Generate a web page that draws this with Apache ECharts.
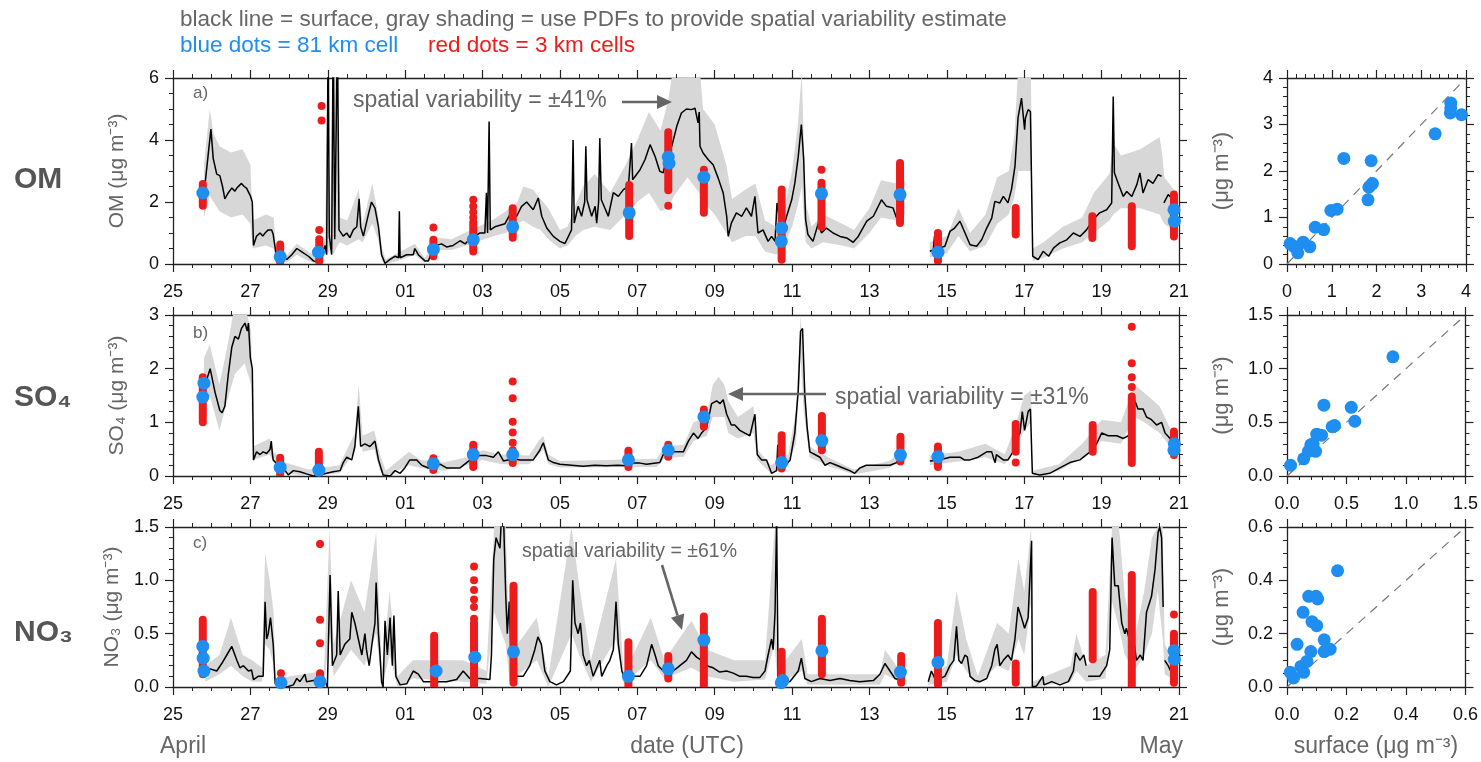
<!DOCTYPE html>
<html>
<head>
<meta charset="utf-8">
<script src="https://cdn.jsdelivr.net/npm/echarts/dist/echarts.min.js"></script>
<style>
  html, body { margin: 0; padding: 0; background: #fff; }
  #chart { width: 1481px; height: 762px; }
</style>
</head>
<body>
<div id="chart"></div>
<script>
// ---------------------------------------------------------------------------
// Time axis: days since 25 April 00 UTC (0 .. 26 = 21 May)
// ---------------------------------------------------------------------------
const dayTickLabels = ['25', '27', '29', '01', '03', '05', '07', '09', '11', '13', '15', '17', '19', '21'];

// ---------------------------- OM (ug m-3) ----------------------------------
// surface observation [day, value]; null marks a gap in the record
const omSurface = [
  [0.83,2.6],[0.98,4.35],[1.04,3.4],[1.13,2.9],[1.21,2.85],[1.28,2.5],[1.34,2.1],[1.43,2.3],[1.52,2.45],[1.6,2.35],
  [1.65,2.45],[1.77,2.6],[1.84,2.5],[1.9,2.45],[2.0,2.2],[2.05,2.0],[2.08,0.6],[2.16,0.9],[2.25,1.0],[2.32,0.9],
  [2.38,1.0],[2.46,1.1],[2.55,1.1],[2.59,0.95],[2.66,0.35],[2.76,0.3],[2.85,0.2],[2.94,0.15],[3.07,0.3],[3.2,0.5],
  [3.32,0.4],[3.5,0.25],[3.63,0.1],[3.76,0.05],[3.84,0.3],[3.93,0.6],[3.97,0.3],[4.01,7.5],[4.04,0.9],[4.1,0.3],
  [4.14,7.5],[4.18,0.8],[4.22,0.8],[4.25,7.5],[4.29,1.1],[4.4,0.9],[4.49,1.0],[4.57,0.85],[4.66,1.1],[4.75,1.2],
  [4.81,2.1],[4.85,1.2],[4.92,0.9],[5.05,1.6],[5.13,2.0],[5.22,1.8],[5.31,1.2],[5.39,0.3],[5.48,0.02],[5.61,0.15],
  [5.74,0.25],[5.83,0.2],[5.85,1.7],[5.87,0.2],[6.04,0.3],[6.21,0.3],[6.25,0.5],[6.34,0.3],[6.51,0.1],[6.6,0.1],
  [6.68,0.35],[6.81,0.6],[6.94,0.65],[7.07,0.55],[7.24,0.6],[7.42,0.75],[7.55,0.65],[7.67,0.8],[7.8,0.9],[7.93,1.0],
  [8.06,1.0],[8.1,2.3],[8.13,1.0],[8.17,4.6],[8.2,1.1],[8.32,1.2],[8.45,1.25],[8.58,1.3],[8.62,1.27],[8.71,1.6],
  [8.88,1.54],[9.01,1.86],[9.14,2.0],[9.31,1.75],[9.44,2.13],[9.53,1.54],[9.66,1.16],[9.83,0.89],[10.0,0.73],[10.13,0.66],
  [10.22,0.89],[10.3,1.1],[10.34,4.0],[10.37,1.32],[10.47,1.86],[10.56,1.54],[10.64,2.0],[10.67,3.8],[10.7,2.07],[10.82,1.54],
  [10.91,1.86],[10.95,1.32],[11.0,2.0],[11.03,4.06],[11.07,2.07],[11.25,1.54],[11.38,2.3],[11.51,2.18],[11.64,2.4],[11.77,2.5],
  [11.85,3.9],[11.88,2.72],[12.07,3.04],[12.2,3.37],[12.33,3.85],[12.46,3.47],[12.58,2.99],[12.67,2.94],[12.76,3.47],[12.89,3.8],
  [13.02,4.44],[13.14,4.87],[13.27,5.0],[13.4,4.98],[13.49,5.03],[13.57,4.55],[13.6,4.9],[13.62,3.8],[13.7,3.58],[13.83,3.37],
  [13.96,3.2],[14.09,2.77],[14.22,2.29],[14.31,1.54],[14.35,0.89],[14.43,1.32],[14.56,1.65],[14.7,1.54],[14.82,1.81],[14.95,1.54],
  [15.04,2.18],[15.12,1.0],[15.25,1.1],[15.38,0.73],[15.47,0.89],[15.56,0.73],[15.61,1.97],[15.73,1.0],[15.86,1.54],[15.99,2.07],
  [16.07,2.6],[16.16,3.47],[16.24,4.5],[16.3,3.37],[16.35,1.43],[16.41,0.95],[16.54,0.73],[16.68,1.32],[16.76,1.0],[16.89,1.16],
  [17.06,1.0],[17.24,0.89],[17.41,0.84],[17.58,0.7],[17.71,0.89],[17.93,1.38],[18.1,1.54],[18.31,2.07],[18.44,1.86],[18.61,1.81],
  [18.7,1.48],[18.79,1.97],[18.91,2.34],[18.93,null],[19.56,0.41],[19.65,0.45],[19.68,0.89],[19.71,0.46],[19.82,0.52],[19.95,0.57],
  [20.08,1.05],[20.2,1.16],[20.34,1.38],[20.47,1.0],[20.6,0.62],[20.77,0.57],[20.9,0.78],[21.03,1.16],[21.16,1.48],[21.24,2.02],
  [21.37,1.97],[21.46,2.18],[21.58,1.97],[21.67,2.4],[21.76,3.15],[21.84,4.71],[21.93,5.35],[22.01,4.33],[22.03,4.7],[22.1,4.98],
  [22.16,4.92],[22.22,0.25],[22.36,0.14],[22.49,0.41],[22.63,0.25],[22.76,0.52],[22.92,0.68],[23.1,0.78],[23.27,1.0],[23.44,0.89],
  [23.61,1.1],[23.78,1.43],[23.95,1.65],[24.13,1.75],[24.26,1.97],[24.3,5.4],[24.33,2.94],[24.43,2.6],[24.56,2.18],[24.65,2.34],
  [24.78,2.18],[24.91,2.56],[24.99,2.94],[25.07,2.29],[25.2,2.72],[25.33,2.6],[25.46,2.88],[25.55,2.83],[25.58,null],[25.61,1.97],
  [25.72,2.24],[25.85,2.07],[25.93,1.65]
];
// spatial-variability envelope [day, low, high]
const omBand = [
  [0.8,1.5,3.2],[0.95,2.2,5.0],[1.05,2.0,4.2],[1.2,1.7,3.8],[1.5,1.5,3.6],[1.8,1.6,3.7],[2.0,1.3,3.2],[2.06,0.5,1.4],
  [2.4,0.6,1.6],[2.6,0.5,1.5],[2.66,0.15,0.55],[2.95,0.05,0.3],[3.2,0.3,0.65],[3.5,0.1,0.4],[3.75,0.0,0.2],[3.93,0.35,0.8],
  [4.0,0.3,6.5],[4.06,0.5,1.2],[4.14,0.3,6.5],[4.25,0.6,6.5],[4.31,0.7,1.5],[4.5,0.6,1.4],[4.8,0.8,2.4],[4.9,0.7,1.3],
  [5.15,1.3,2.6],[5.3,0.8,1.6],[5.4,0.1,0.5],[5.5,0.0,0.15],[5.8,0.1,0.35],[6.25,0.3,0.65],[6.5,0.05,0.2],[6.7,0.2,0.5],
  [6.85,0.45,0.85],[7.2,0.45,0.8],[7.45,0.55,0.95],[7.8,0.7,1.15],[8.05,0.8,1.3],[8.3,0.9,1.45],[8.6,1.0,1.7],[8.9,1.3,2.0],
  [9.05,1.4,2.5],[9.3,1.2,2.4],[9.5,1.1,2.1],[9.7,0.8,1.8],[10.0,0.5,1.1],[10.2,0.6,1.2],[10.4,0.9,1.9],[10.6,1.1,2.5],
  [10.9,1.2,2.9],[11.3,1.1,2.3],[11.7,1.6,3.2],[12.0,2.0,4.0],[12.3,2.3,4.9],[12.6,1.7,4.3],[12.8,1.8,5.3],[12.95,2.2,6.5],
  [13.3,2.8,6.5],[13.6,2.3,6.5],[13.7,2.0,5.0],[14.0,1.6,4.5],[14.3,1.0,3.2],[14.45,0.7,2.1],[14.8,0.9,2.4],[15.05,0.9,2.6],
  [15.3,0.4,1.4],[15.6,0.3,1.2],[15.8,0.6,1.8],[16.0,1.2,3.0],[16.15,1.9,4.5],[16.25,2.5,6.2],[16.35,0.7,2.0],[16.5,0.5,1.2],
  [16.8,0.7,1.6],[17.3,0.6,1.3],[17.6,0.5,1.1],[18.0,1.0,1.8],[18.3,1.5,2.7],[18.7,1.4,2.6],[18.92,1.6,2.7],[18.93,null,null],
  [19.56,0.2,0.7],[20.0,0.35,0.9],[20.3,0.9,1.8],[20.6,0.4,1.0],[21.0,0.6,1.6],[21.3,1.3,2.8],[21.6,1.6,3.0],[21.75,2.2,4.2],
  [21.85,3.0,6.5],[22.17,3.0,6.5],[22.22,0.1,0.5],[22.5,0.2,0.7],[23.0,0.5,1.2],[23.5,0.7,1.5],[23.8,1.0,2.3],[24.2,1.4,2.9],
  [24.3,1.6,3.9],[24.5,1.8,3.5],[25.0,1.8,3.7],[25.5,1.6,4.1],[25.57,1.4,3.5],[25.62,1.3,2.8],[25.93,1.0,2.3]
];
// 3 km cells: continuous runs of dots [day, lowest, highest] and isolated dots [day, value]
const omRedRuns = [
  [0.77,1.88,2.58],[2.77,0.05,0.63],[3.78,0.08,0.8],[6.73,0.25,0.78],[7.76,0.4,1.35],[8.78,0.85,1.8],[11.79,0.9,2.55],
  [12.8,2.38,4.25],[13.72,1.65,2.88],[15.73,0.14,2.4],[16.76,1.2,2.62],[18.79,1.32,3.26],[19.77,0.09,1.0],[21.78,0.95,1.81],
  [23.76,0.84,1.54],[24.78,0.57,1.86],[25.87,0.89,2.24]
];
const omRedDots = [
  [3.78,1.1],[3.84,4.63],[3.84,5.1],[6.73,1.18],[7.76,1.5],[7.76,1.67],[7.76,1.86],[7.76,2.07],[12.8,1.88],[13.72,3.04],[16.76,3.04]
];
// 81 km cell [day, value]
const omBlue = [
  [0.77,2.29],[2.77,0.23],[3.76,0.38],[6.73,0.47],[7.76,0.78],[8.78,1.2],[11.79,1.65],[12.8,3.45],[12.82,3.25],[13.72,2.8],
  [15.73,1.16],[15.72,0.73],[16.76,2.27],[18.79,2.24],[19.77,0.38],[25.87,1.75],[25.88,1.38]
];
// scatter: surface vs 81 km cell
const omScatterSurface = [0.07,0.15,0.24,0.36,0.51,0.63,0.82,0.98,1.12,1.27,1.81,1.83,1.91,1.88,3.31,3.66,3.65,3.9,3.66];
const omScatterModel   = [0.44,0.38,0.24,0.47,0.37,0.79,0.74,1.15,1.18,2.27,1.38,1.65,1.73,2.22,2.8,3.46,3.25,3.21,3.36];

// ---------------------------- SO4 (ug m-3) ---------------------------------
const so4Surface = [
  [0.83,1.7],[0.96,2.0],[1.09,1.55],[1.21,1.22],[1.27,1.18],[1.34,1.3],[1.43,1.9],[1.52,2.4],[1.6,2.6],[1.69,2.55],
  [1.77,2.75],[1.86,2.85],[1.92,2.7],[1.95,2.85],[2.0,2.2],[2.05,2.0],[2.08,0.3],[2.16,0.45],[2.25,0.4],[2.33,0.45],
  [2.42,0.42],[2.51,0.5],[2.54,0.65],[2.57,0.4],[2.59,0.3],[2.72,0.2],[2.85,0.15],[2.98,0.02],[3.11,0.1],[3.28,0.08],
  [3.45,0.04],[3.63,0.0],[3.8,0.02],[3.97,0.05],[4.14,0.08],[4.32,0.1],[4.4,0.25],[4.49,0.35],[4.62,0.3],[4.7,0.55],
  [4.79,1.3],[4.85,0.55],[4.96,0.6],[5.09,0.55],[5.22,0.65],[5.31,0.3],[5.43,0.02],[5.61,0.0],[5.74,0.1],[5.87,0.05],
  [5.99,0.15],[6.12,0.3],[6.3,0.3],[6.43,0.2],[6.6,0.15],[6.77,0.2],[6.9,0.22],[7.07,0.15],[7.24,0.15],[7.42,0.15],
  [7.59,0.25],[7.76,0.35],[7.93,0.38],[8.1,0.38],[8.28,0.35],[8.41,0.45],[8.54,0.28],[8.8,0.32],[8.97,0.3],[9.14,0.3],
  [9.31,0.3],[9.48,0.48],[9.57,0.62],[9.7,0.3],[9.83,0.25],[10.0,0.22],[10.3,0.2],[10.6,0.18],[10.9,0.2],[11.2,0.19],
  [11.5,0.2],[11.72,0.19],[11.9,0.24],[12.07,0.24],[12.24,0.22],[12.58,0.25],[12.67,0.4],[12.8,0.45],[13.01,0.45],[13.19,0.45],
  [13.32,0.65],[13.45,0.8],[13.57,0.7],[13.66,0.8],[13.79,0.9],[13.92,1.35],[14.05,1.4],[14.14,1.35],[14.22,1.42],[14.31,1.15],
  [14.43,0.95],[14.52,0.95],[14.65,0.85],[14.78,0.8],[14.91,0.75],[15.04,1.15],[15.1,0.4],[15.21,0.3],[15.34,0.3],[15.47,0.05],
  [15.6,0.1],[15.63,0.58],[15.66,0.3],[15.77,0.15],[15.95,0.3],[16.07,0.8],[16.16,1.6],[16.22,2.7],[16.27,2.75],[16.33,1.5],
  [16.39,0.9],[16.46,0.45],[16.59,0.4],[16.72,0.35],[16.85,0.2],[16.98,0.25],[17.15,0.2],[17.32,0.15],[17.49,0.1],[17.62,0.05],
  [17.75,0.15],[17.92,0.2],[18.18,0.2],[18.53,0.2],[18.7,0.25],[18.83,0.35],[18.88,null],[19.56,0.28],[19.82,0.3],[20.08,0.35],
  [20.34,0.35],[20.45,0.3],[20.6,0.3],[20.81,0.35],[21.03,0.45],[21.16,0.45],[21.22,0.3],[21.25,0.25],[21.28,0.4],[21.46,0.3],
  [21.58,0.3],[21.71,0.45],[21.8,0.7],[21.89,0.8],[21.95,1.2],[22.01,0.85],[22.1,1.2],[22.16,1.25],[22.21,0.05],[22.4,0.02],
  [22.66,0.05],[22.92,0.15],[23.18,0.25],[23.44,0.3],[23.7,0.45],[23.87,0.6],[24.0,0.8],[24.17,0.75],[24.39,0.75],[24.56,0.7],
  [24.69,0.75],[24.78,0.9],[24.86,1.4],[24.94,1.25],[25.07,1.25],[25.16,1.1],[25.29,1.05],[25.42,0.95],[25.55,1.0],[25.64,0.8],
  [25.77,0.7],[25.9,0.5]
];
const so4Band = [
  [0.8,1.4,2.2],[0.95,1.5,2.45],[1.2,0.85,1.7],[1.4,1.4,2.4],[1.6,1.9,3.2],[1.85,2.1,3.2],[2.02,1.7,2.7],[2.07,0.3,0.55],
  [2.5,0.4,0.7],[2.6,0.25,0.45],[2.9,0.05,0.25],[3.5,0.0,0.12],[4.3,0.05,0.2],[4.5,0.25,0.5],[4.7,0.45,0.8],[4.8,1.0,1.7],
  [4.9,0.45,0.75],[5.2,0.5,0.85],[5.35,0.1,0.4],[5.5,0.0,0.1],[6.1,0.2,0.45],[6.4,0.15,0.3],[7.0,0.1,0.25],[7.6,0.2,0.35],
  [8.0,0.3,0.48],[8.5,0.22,0.4],[9.2,0.22,0.38],[9.45,0.4,0.65],[9.57,0.5,0.75],[9.7,0.22,0.4],[10.0,0.16,0.28],[12.5,0.17,0.32],
  [12.7,0.33,0.55],[13.2,0.36,0.58],[13.45,0.65,1.0],[13.8,0.75,1.1],[13.95,1.1,1.7],[14.1,1.1,1.85],[14.25,1.1,1.7],[14.35,0.8,1.4],
  [14.6,0.7,1.1],[15.0,0.8,1.3],[15.1,0.3,0.5],[15.45,0.05,0.2],[15.9,0.2,0.4],[16.1,0.6,1.2],[16.22,2.2,3.0],[16.3,1.2,2.0],
  [16.45,0.35,0.55],[17.0,0.17,0.32],[17.6,0.03,0.12],[18.5,0.15,0.28],[18.85,0.28,0.45],[18.9,null,null],[19.56,0.2,0.38],[20.3,0.27,0.45],
  [21.0,0.35,0.6],[21.5,0.22,0.4],[21.8,0.55,1.0],[22.0,0.85,1.5],[22.18,1.0,1.6],[22.21,0.0,0.1],[22.9,0.1,0.22],[23.5,0.35,0.6],
  [24.0,0.65,1.05],[24.5,0.6,1.0],[24.85,1.1,1.7],[25.1,1.0,1.55],[25.5,0.8,1.3],[25.93,0.4,0.65]
];
const so4RedRuns = [
  [0.77,1.0,1.84],[2.77,0.01,0.34],[3.77,0.02,0.45],[6.73,0.11,0.33],[7.76,0.17,0.58],[8.78,0.24,0.42],[11.77,0.17,0.47],
  [12.8,0.36,0.58],[13.72,0.92,1.24],[15.73,0.14,0.76],[16.77,0.48,1.12],[18.8,0.27,0.73],[19.77,0.17,0.55],[21.78,0.45,0.97],
  [23.77,0.45,0.95],[24.78,0.24,1.48],[25.87,0.39,0.83]
];
const so4RedDots = [
  [8.78,0.48],[8.78,0.62],[8.78,0.81],[8.78,1.01],[8.78,1.45],[8.78,1.76],[21.78,0.25],[24.78,1.66],[24.78,1.84],[24.78,2.1],[24.78,2.78]
];
const so4Blue = [
  [0.77,1.47],[0.8,1.73],[2.77,0.16],[3.77,0.11],[6.73,0.23],[7.76,0.4],[8.78,0.4],[11.77,0.3],[12.8,0.48],[13.72,1.1],
  [15.73,0.25],[16.77,0.66],[18.8,0.39],[19.77,0.36],[25.87,0.48],[25.88,0.6]
];
const so4ScatterSurface = [0.03,0.14,0.18,0.2,0.22,0.24,0.25,0.29,0.31,0.38,0.4,0.54,0.57,0.89];
const so4ScatterModel   = [0.1,0.16,0.23,0.29,0.3,0.23,0.39,0.38,0.66,0.46,0.47,0.64,0.51,1.11];

// ---------------------------- NO3 (ug m-3) ---------------------------------
const no3Surface = [
  [0.83,0.12],[0.96,0.17],[1.13,0.15],[1.26,0.22],[1.39,0.3],[1.52,0.38],[1.56,0.34],[1.65,0.25],[1.73,0.18],[1.82,0.2],
  [1.95,0.15],[2.03,0.16],[2.08,0.07],[2.2,0.1],[2.33,0.1],[2.38,0.8],[2.42,0.45],[2.46,0.5],[2.52,0.65],[2.59,0.4],
  [2.64,0.03],[2.76,0.02],[2.94,0.0],[3.11,0.02],[3.2,0.08],[3.28,0.05],[3.41,0.12],[3.45,0.05],[3.63,0.06],[3.8,0.1],
  [3.93,0.05],[3.99,0.0],[4.06,1.05],[4.12,0.2],[4.23,0.3],[4.27,0.9],[4.32,0.3],[4.44,0.4],[4.57,0.45],[4.62,0.7],
  [4.7,0.6],[4.79,0.45],[4.88,0.3],[4.96,0.5],[5.0,0.35],[5.07,0.2],[5.16,0.45],[5.22,0.6],[5.25,0.98],[5.31,0.5],
  [5.35,0.3],[5.39,0.05],[5.43,0.0],[5.48,0.62],[5.54,0.3],[5.61,0.65],[5.67,0.2],[5.71,0.67],[5.76,0.1],[5.87,0.02],
  [6.04,0.03],[6.21,0.15],[6.34,0.12],[6.47,0.05],[6.73,0.05],[7.07,0.05],[7.33,0.07],[7.5,0.15],[7.67,0.08],[7.93,0.08],
  [8.19,0.07],[8.23,0.3],[8.29,1.2],[8.35,1.4],[8.45,1.3],[8.49,1.6],[8.55,1.5],[8.6,0.85],[8.64,0.5],[8.69,0.8],
  [8.75,0.1],[8.88,0.1],[9.05,0.1],[9.22,0.2],[9.35,0.35],[9.43,0.47],[9.52,0.4],[9.61,0.15],[9.74,0.05],[9.91,0.02],
  [10.09,0.05],[10.27,0.15],[10.33,1.0],[10.39,0.6],[10.47,0.5],[10.53,0.6],[10.6,0.3],[10.69,0.2],[10.76,0.25],[10.86,0.1],
  [11.03,0.25],[11.08,0.1],[11.21,0.2],[11.29,0.25],[11.38,0.35],[11.45,0.8],[11.51,0.4],[11.6,0.15],[11.68,0.07],[11.77,0.07],
  [11.9,0.1],[12.07,0.1],[12.24,0.2],[12.37,0.4],[12.46,0.3],[12.54,0.2],[12.67,0.15],[12.8,0.12],[12.93,0.15],[13.1,0.2],
  [13.27,0.25],[13.4,0.33],[13.53,0.28],[13.66,0.25],[13.79,0.2],[13.96,0.18],[14.13,0.14],[14.31,0.15],[14.48,0.13],[14.65,0.1],
  [14.82,0.1],[14.99,0.09],[15.17,0.09],[15.3,0.15],[15.38,0.3],[15.47,0.45],[15.51,0.35],[15.56,0.7],[15.6,1.6],[15.64,0.05],
  [15.77,0.06],[15.94,0.05],[16.16,0.15],[16.24,0.27],[16.33,0.08],[16.5,0.05],[16.72,0.08],[16.98,0.06],[17.24,0.08],[17.49,0.06],
  [17.75,0.05],[18.1,0.06],[18.27,0.12],[18.4,0.22],[18.53,0.15],[18.66,0.08],[18.83,0.06],[18.88,null],[19.52,0.05],[19.6,0.15],
  [19.69,0.08],[19.82,0.08],[19.95,0.1],[20.08,0.2],[20.18,0.25],[20.25,0.57],[20.31,0.25],[20.38,0.22],[20.47,0.3],[20.53,0.28],
  [20.6,0.1],[20.73,0.06],[20.86,0.05],[21.03,0.08],[21.16,0.2],[21.24,0.35],[21.3,0.4],[21.37,0.2],[21.46,0.25],[21.58,0.3],
  [21.67,0.25],[21.76,0.45],[21.84,0.75],[21.93,0.65],[22.01,0.55],[22.1,0.65],[22.19,1.37],[22.21,0.0],[22.32,0.01],[22.48,0.1],
  [22.51,0.02],[22.71,0.05],[22.92,0.02],[23.14,0.05],[23.27,0.15],[23.33,0.32],[23.44,0.25],[23.54,0.3],[23.6,0.2],[23.62,null],
  [23.65,0.1],[23.78,0.1],[23.95,0.1],[24.13,0.2],[24.21,0.35],[24.27,1.4],[24.34,0.95],[24.43,0.95],[24.52,0.6],[24.6,0.5],
  [24.64,0.55],[24.75,0.4],[24.81,0.5],[24.9,0.25],[25.0,0.3],[25.07,0.25],[25.16,0.7],[25.29,0.85],[25.38,1.1],[25.46,1.45],
  [25.5,1.5],[25.55,1.4],[25.59,0.75],[25.61,null],[25.63,0.25],[25.72,0.2],[25.85,0.1],[25.93,0.12]
];
const no3Band = [
  [0.83,0.05,0.2],[1.2,0.12,0.3],[1.5,0.2,0.65],[1.8,0.1,0.3],[2.05,0.05,0.25],[2.3,0.05,0.18],[2.38,0.4,1.25],[2.5,0.35,1.0],
  [2.6,0.2,0.7],[2.65,0.0,0.08],[3.9,0.0,0.15],[4.05,0.5,1.5],[4.15,0.1,0.4],[4.6,0.35,1.0],[4.95,0.2,0.7],[5.25,0.5,1.45],
  [5.4,0.0,0.15],[5.6,0.3,0.9],[5.8,0.0,0.1],[6.2,0.08,0.25],[7.5,0.05,0.25],[8.1,0.03,0.15],[8.3,0.7,1.5],[8.6,0.4,1.5],
  [8.7,0.05,0.3],[9.4,0.25,0.65],[9.7,0.0,0.1],[10.3,0.5,1.5],[10.5,0.3,0.95],[10.8,0.05,0.25],[11.45,0.45,1.2],[11.65,0.03,0.12],
  [12.35,0.25,0.65],[12.7,0.08,0.25],[13.4,0.18,0.62],[13.8,0.1,0.35],[14.5,0.05,0.25],[15.3,0.07,0.25],[15.55,0.4,1.5],[15.62,0.02,0.15],
  [16.25,0.15,0.45],[16.4,0.02,0.12],[18.27,0.02,0.12],[18.4,0.12,0.35],[18.85,0.03,0.12],[18.9,null,null],[19.52,0.02,0.1],[20.0,0.05,0.2],
  [20.25,0.3,0.9],[20.5,0.15,0.45],[20.8,0.02,0.1],[21.3,0.2,0.6],[21.6,0.15,0.5],[21.85,0.45,1.2],[22.0,0.3,0.9],[22.18,0.8,1.5],
  [22.21,0.0,0.05],[23.2,0.05,0.2],[23.35,0.15,0.5],[23.6,0.05,0.2],[24.1,0.08,0.3],[24.27,0.8,1.5],[24.45,0.55,1.5],[24.6,0.3,0.85],
  [24.85,0.15,0.45],[25.1,0.3,0.9],[25.3,0.5,1.4],[25.45,0.9,1.5],[25.58,0.45,1.5],[25.63,0.12,0.4],[25.93,0.05,0.2]
];
const no3RedRuns = [
  [0.77,0.12,0.63],[2.79,0.0,0.07],[3.8,0.0,0.13],[6.75,0.0,0.48],[7.78,0.0,0.6],[8.8,0.04,0.95],[11.77,0.0,0.42],
  [12.8,0.08,0.29],[13.72,0.0,0.66],[15.73,0.0,0.33],[16.77,0.12,0.64],[18.82,0.04,0.29],[19.77,0.02,0.6],[21.78,0.04,0.22],
  [23.77,0.26,0.89],[24.78,0.01,1.05],[25.87,0.04,0.5]
];
const no3RedDots = [
  [2.79,0.13],[3.8,0.41],[3.8,0.63],[3.8,1.34],[7.78,0.64],[7.78,0.75],[7.78,0.82],[7.78,0.91],[7.78,1.0],[7.78,1.13],[25.87,0.68]
];
const no3Blue = [
  [0.77,0.38],[0.78,0.27],[0.8,0.15],[2.79,0.04],[3.8,0.05],[6.8,0.15],[7.8,0.28],[8.8,0.33],[11.77,0.1],[12.8,0.17],
  [13.72,0.44],[15.72,0.04],[15.76,0.06],[16.77,0.34],[18.8,0.14],[19.77,0.23],[25.87,0.34],[25.88,0.26]
];
const no3ScatterSurface = [0.011,0.022,0.034,0.047,0.056,0.054,0.067,0.073,0.08,0.084,0.098,0.1,0.103,0.125,0.125,0.145,0.17];
const no3ScatterModel   = [0.055,0.034,0.16,0.077,0.055,0.28,0.096,0.34,0.133,0.245,0.34,0.23,0.33,0.177,0.133,0.142,0.436];

// ---------------------------------------------------------------------------
// Styling
// ---------------------------------------------------------------------------
const FONT = '"Liberation Sans", Arial, Helvetica, sans-serif';
const TXT_GRAY = '#666666';
const RED = '#ec1c1c';
const BLUE = '#1e8ef0';
const SHADE = '#d7d7d7';
const RED_DOT = 8;
const BLUE_DOT = 13;

const tsBox = { left: 173, width: 1006 };
const scBox = { left: 1287, width: 179 };
const rowBox = [ { top: 78, height: 186 }, { top: 315, height: 161 }, { top: 527, height: 160 } ];

const panels = [
  { name: 'OM (μg m⁻³)', surface: omSurface, band: omBand, runs: omRedRuns, dots: omRedDots, blue: omBlue,
    y: { min: 0, max: 6, interval: 2, minor: 4, dec: 0 },
    sc: { sx: omScatterSurface, sy: omScatterModel, min: 0, max: 4, interval: 1, minor: 5, dec: 0 } },
  { name: 'SO₄ (μg m⁻³)', surface: so4Surface, band: so4Band, runs: so4RedRuns, dots: so4RedDots, blue: so4Blue,
    y: { min: 0, max: 3, interval: 1, minor: 5, dec: 0 },
    sc: { sx: so4ScatterSurface, sy: so4ScatterModel, min: 0, max: 1.5, interval: 0.5, minor: 5, dec: 1 } },
  { name: 'NO₃ (μg m⁻³)', surface: no3Surface, band: no3Band, runs: no3RedRuns, dots: no3RedDots, blue: no3Blue,
    y: { min: 0, max: 1.5, interval: 0.5, minor: 5, dec: 1 },
    sc: { sx: no3ScatterSurface, sy: no3ScatterModel, min: 0, max: 0.6, interval: 0.2, minor: 4, dec: 1 } }
];

function axis(gridIndex, cfg, position, showLabel, labelMargin, extra) {
  return Object.assign({
    type: 'value', gridIndex: gridIndex, position: position,
    min: cfg.min, max: cfg.max, interval: cfg.interval,
    axisLine: { show: true, onZero: false, lineStyle: { color: '#222', width: 1.3 } },
    axisTick: { show: true, inside: false, length: 8, lineStyle: { color: '#222', width: 1.2 } },
    minorTick: { show: true, splitNumber: cfg.minor, length: 4, lineStyle: { color: '#222', width: 1 } },
    splitLine: { show: false }, minorSplitLine: { show: false },
    axisLabel: { show: showLabel, color: '#111', fontSize: 18, fontFamily: FONT, margin: labelMargin,
                 formatter: cfg.fmt || (v => v.toFixed(cfg.dec)) }
  }, extra || {});
}

const grid = [], xAxis = [], yAxis = [], series = [];
const timeCfg = { min: 0, max: 26, interval: 2, minor: 4, fmt: v => dayTickLabels[Math.round(v / 2)] };

panels.forEach((p, i) => {
  // time-series grid
  const g = grid.length;
  grid.push({ left: tsBox.left, width: tsBox.width, top: rowBox[i].top, height: rowBox[i].height });
  const xb = xAxis.length;
  xAxis.push(axis(g, timeCfg, 'bottom', true, 19));
  xAxis.push(axis(g, timeCfg, 'top', false, 8));
  const yb = yAxis.length;
  yAxis.push(axis(g, p.y, 'left', true, 14, {
    name: p.name, nameLocation: 'middle', nameGap: 45, nameRotate: 90,
    nameTextStyle: { color: TXT_GRAY, fontSize: 21, fontFamily: FONT }
  }));
  yAxis.push(axis(g, p.y, 'right', false, 8));

  const band = p.band;
  series.push({
    type: 'custom', xAxisIndex: xb, yAxisIndex: yb, z: 1, silent: true, clip: true,
    data: band.filter(r => r[1] !== null),
    encode: { x: 0, y: [1, 2] },
    renderItem: function (params, api) {
      if (params.dataIndex !== 0) return null;
      const segs = []; let cur = [];
      band.forEach(r => { if (r[1] === null) { if (cur.length) segs.push(cur); cur = []; } else cur.push(r); });
      if (cur.length) segs.push(cur);
      return {
        type: 'group',
        children: segs.map(seg => {
          const pts = seg.map(r => api.coord([r[0], r[2]]));
          for (let k = seg.length - 1; k >= 0; k--) pts.push(api.coord([seg[k][0], seg[k][1]]));
          return { type: 'polygon', shape: { points: pts }, style: { fill: SHADE } };
        })
      };
    }
  });
  series.push({
    type: 'line', xAxisIndex: xb, yAxisIndex: yb, z: 2, silent: true, clip: true,
    symbol: 'none', showSymbol: false, connectNulls: false,
    data: p.surface.map(d => d[1] === null ? [d[0], '-'] : d),
    lineStyle: { color: '#000', width: 1.5 }
  });
  series.push({
    type: 'custom', xAxisIndex: xb, yAxisIndex: yb, z: 3, silent: true, clip: true,
    data: p.runs, encode: { x: 0, y: [1, 2] },
    renderItem: function (params, api) {
      const top = api.coord([api.value(0), api.value(2)]);
      const bot = api.coord([api.value(0), api.value(1)]);
      const r = RED_DOT / 2;
      return { type: 'rect', shape: { x: top[0] - r, y: top[1] - r, width: RED_DOT, height: bot[1] - top[1] + RED_DOT, r: r },
               style: { fill: RED } };
    }
  });
  series.push({
    type: 'scatter', xAxisIndex: xb, yAxisIndex: yb, z: 3, silent: true, clip: true,
    symbolSize: RED_DOT, data: p.dots, itemStyle: { color: RED, opacity: 1 }
  });
  series.push({
    type: 'scatter', xAxisIndex: xb, yAxisIndex: yb, z: 4, silent: true, clip: true,
    symbolSize: BLUE_DOT, data: p.blue, itemStyle: { color: BLUE, opacity: 1 }
  });

  // scatter grid: surface vs 81 km cell
  const sg = grid.length;
  grid.push({ left: scBox.left, width: scBox.width, top: rowBox[i].top, height: rowBox[i].height });
  const sxb = xAxis.length;
  xAxis.push(axis(sg, p.sc, 'bottom', true, 19));
  xAxis.push(axis(sg, p.sc, 'top', false, 8));
  const syb = yAxis.length;
  yAxis.push(axis(sg, p.sc, 'left', true, 14, {
    name: '(μg m⁻³)', nameLocation: 'middle', nameGap: 54, nameRotate: 90,
    nameTextStyle: { color: TXT_GRAY, fontSize: 22, fontFamily: FONT }
  }));
  yAxis.push(axis(sg, p.sc, 'right', false, 8));
  series.push({
    type: 'line', xAxisIndex: sxb, yAxisIndex: syb, z: 2, silent: true, symbol: 'none',
    data: [[p.sc.min, p.sc.min], [p.sc.max, p.sc.max]],
    lineStyle: { color: '#777', width: 1.2, type: [9, 7] }
  });
  series.push({
    type: 'scatter', xAxisIndex: sxb, yAxisIndex: syb, z: 3, silent: true, clip: false,
    symbolSize: 13, data: p.sc.sx.map((v, k) => [v, p.sc.sy[k]]), itemStyle: { color: BLUE, opacity: 1 }
  });
});

function label(x, y, text, opts) {
  return {
    type: 'text', x: x, y: y, silent: true, z: 10,
    style: Object.assign({ text: text, fill: TXT_GRAY, font: '19px ' + FONT, align: 'left', verticalAlign: 'middle' }, opts || {})
  };
}
function arrow(x1, y1, x2, y2) {
  const dx = x2 - x1, dy = y2 - y1, L = Math.sqrt(dx * dx + dy * dy);
  const ux = dx / L, uy = dy / L, head = 15, half = 7;
  const bx = x2 - ux * head, by = y2 - uy * head;
  return [
    { type: 'line', silent: true, z: 10, shape: { x1: x1, y1: y1, x2: bx, y2: by }, style: { stroke: '#666', lineWidth: 2.6 } },
    { type: 'polygon', silent: true, z: 10,
      shape: { points: [[x2, y2], [bx - uy * half, by + ux * half], [bx + uy * half, by - ux * half]] }, style: { fill: '#666' } }
  ];
}

const graphic = [
  label(180, 20, 'black line = surface, gray shading = use PDFs to provide spatial variability estimate', { font: '22.5px ' + FONT }),
  label(180, 46, 'blue dots = 81 km cell', { fill: BLUE, font: '22.5px ' + FONT }),
  label(428, 46, 'red dots = 3 km cells', { fill: RED, font: '22.5px ' + FONT }),
  label(14, 180, 'OM', { fill: '#555', font: 'bold 30px ' + FONT }),
  label(14, 398, 'SO₄', { fill: '#555', font: 'bold 30px ' + FONT }),
  label(14, 633, 'NO₃', { fill: '#555', font: 'bold 30px ' + FONT }),
  label(193, 93, 'a)', { font: '17px ' + FONT }),
  label(193, 333, 'b)', { font: '17px ' + FONT }),
  label(193, 543, 'c)', { font: '17px ' + FONT }),
  label(353, 101, 'spatial variability = ±41%', { font: '23px ' + FONT }),
  label(835, 398, 'spatial variability = ±31%', { font: '23px ' + FONT }),
  label(522, 552, 'spatial variability = ±61%', { font: '19.5px ' + FONT }),
  label(160, 747, 'April', { font: '23px ' + FONT }),
  label(687, 747, 'date (UTC)', { font: '23px ' + FONT, align: 'center' }),
  label(1183, 747, 'May', { font: '23px ' + FONT, align: 'right' }),
  label(1376, 747, 'surface (μg m⁻³)', { font: '23px ' + FONT, align: 'center' })
].concat(arrow(622, 102, 672, 102), arrow(826, 394, 728, 394), arrow(662, 565, 682, 630));

const chart = echarts.init(document.getElementById('chart'), null, { renderer: 'canvas' });
chart.setOption({
  animation: false,
  backgroundColor: '#fff',
  textStyle: { fontFamily: FONT },
  grid: grid, xAxis: xAxis, yAxis: yAxis, series: series, graphic: graphic
});
</script>
</body>
</html>
